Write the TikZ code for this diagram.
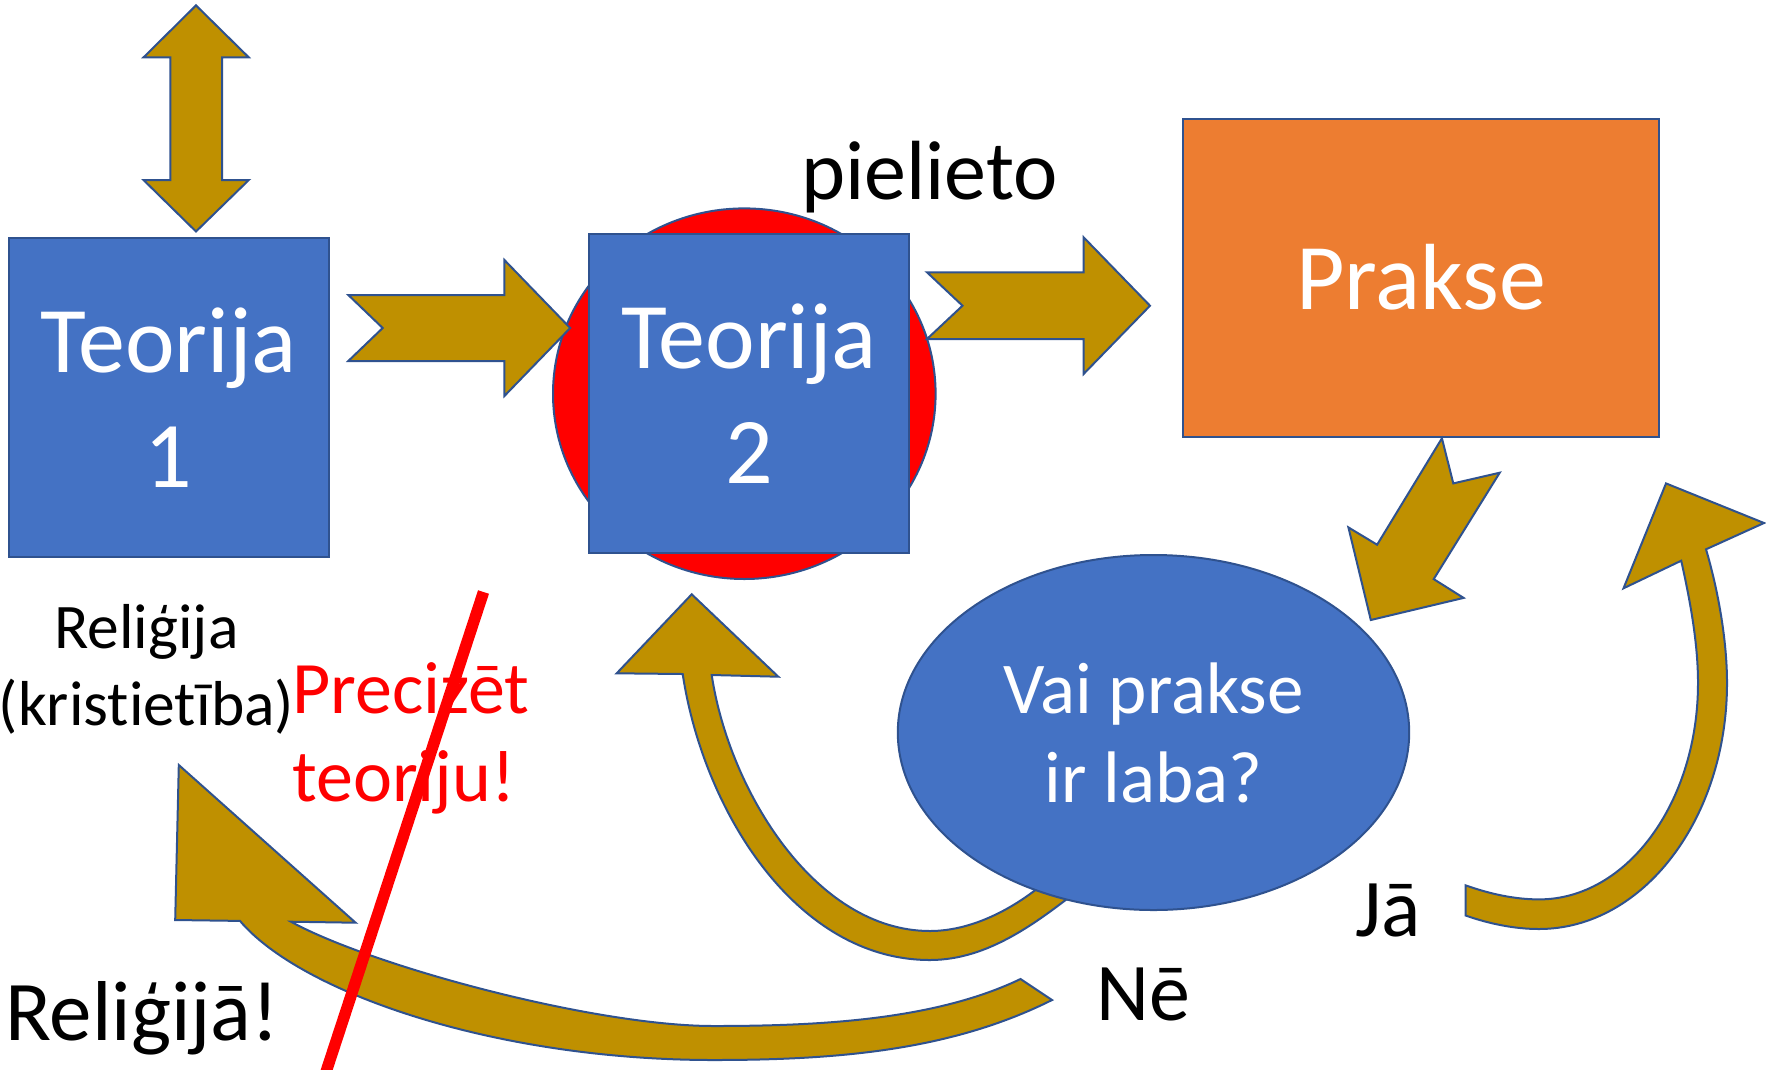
\documentclass[tikz,border=0pt]{standalone}
\usepackage{fontspec}
\setmainfont{Carlito}[Ligatures={NoCommon,NoRare,NoContextual}]
\usetikzlibrary{shapes.geometric}
\definecolor{obl}{HTML}{4472C4}
\definecolor{oln}{HTML}{2F528F}
\definecolor{oor}{HTML}{ED7D31}
\definecolor{ogold}{HTML}{BF9000}
\newcommand\szTeo{\fontsize{94}{115}\selectfont}
\newcommand\szQ{\fontsize{73}{89}\selectfont}
\newcommand\szRel{\fontsize{63.5}{76.5}\selectfont}
\newcommand\szPr{\fontsize{74}{88.4}\selectfont}
\newcommand\szLab{\fontsize{82}{100}\selectfont}
\newcommand\szPiel{\fontsize{84}{100}\selectfont}
\newcommand\szRelB{\fontsize{85}{104}\selectfont}
\begin{document}
\begin{tikzpicture}[x=1pt,y=-1pt,
  outl/.style={draw=oln, line width=2pt, line join=miter},
  bluebox/.style={rectangle, outl, fill=obl, text=white, inner sep=0pt, align=center},
  blockarrow/.style={outl, fill=ogold},
  lbl/.style={inner sep=0pt}]
\useasboundingbox (0,0) rectangle (1766,1069);

% double arrow above Teorija 1
\draw[blockarrow] (196,5.4) -- (248.8,57.4) -- (222,57.4) -- (222,180) -- (248.8,180)
  -- (196,231.5) -- (143.5,180) -- (170.3,180) -- (170.3,57.4) -- (143.5,57.4) -- cycle;

% Teorija 1
\node[bluebox, minimum width=320.5pt, minimum height=319pt, font=\szTeo] (t1) at (168.75,397.5) {Teorija\\1};

% red circle and Teorija 2
\node[ellipse, outl, fill=red, minimum width=382.6pt, minimum height=370.6pt, inner sep=0pt] (c2) at (744.3,393.7) {};
\node[bluebox, minimum width=319.2pt, minimum height=318.7pt, font=\szTeo] (t2) at (749,393.4) {Teorija\\2};

% arrow Teorija 1 -> Teorija 2
\draw[blockarrow] (348.3,295) -- (504.4,295) -- (504.4,260) -- (570.2,328) -- (504.4,396)
  -- (504.4,361) -- (348.3,361) -- (382.7,328) -- cycle;

% Prakse
\node[rectangle, outl, fill=oor, text=white, minimum width=476pt, minimum height=318pt, inner sep=0pt, font=\szTeo] (pr) at (1421,277.6) {Prakse};

% arrow Teorija 2 -> Prakse
\draw[blockarrow] (927,272.3) -- (1083.6,272.3) -- (1083.6,237.3) -- (1150,305.7) -- (1083.6,374)
  -- (1083.6,339) -- (927,339) -- (962.5,305.7) -- cycle;

% arrow Prakse -> question
\draw[blockarrow] (1441.9,438.3) -- (1453.3,483.4) -- (1499.7,472.7) -- (1433.7,579.1)
  -- (1463.6,597.9) -- (1370.8,620) -- (1348.4,527.4) -- (1377.1,544.7) -- cycle;

% curved arrow question -> Teorija 2 (Ne)
\draw[blockarrow] (682.7,674) .. controls (703,809) and (795,960) .. (930,960)
  .. controls (990,960) and (1040,920) .. (1085,885) -- (1067,862)
  .. controls (1025,905) and (975,931) .. (930,931)
  .. controls (815,931) and (729,790) .. (711.7,675)
  -- (778.3,676.7) -- (691.7,594.3) -- (616.7,673.3) -- cycle;

% question ellipse
\node[ellipse, outl, fill=obl, text=white, minimum width=511.4pt, minimum height=355pt, inner sep=0pt, align=center, font=\szQ] (q) at (1153.5,732.5) {Vai prakse\\ir laba?};

% big curved arrow to Religija
\draw[blockarrow] (240,920.9) .. controls (300,992) and (493.5,1060) .. (713.5,1060)
  .. controls (840,1060) and (952,1050) .. (1052,1000) -- (1020.5,979)
  .. controls (935,1020) and (820,1026) .. (713.5,1026)
  .. controls (593.5,1026) and (371,965.7) .. (291,921.7)
  -- (355.6,922.7) -- (178.8,765) -- (175.2,920) -- cycle;

% curved arrow Ja
\draw[blockarrow] (1465.5,885.3) .. controls (1490,894) and (1515,899.4) .. (1539,899.4)
  .. controls (1626.8,899.4) and (1698,802.5) .. (1698,683)
  .. controls (1698,643) and (1690,600) .. (1681.2,560.7)
  -- (1623.5,588.3) -- (1666,483.4) -- (1764,523) -- (1706,549.3)
  .. controls (1718,590) and (1727,640) .. (1727,683)
  .. controls (1727,818.9) and (1642.8,929) .. (1539,929)
  .. controls (1515,929) and (1490,924) .. (1465.5,915.5) -- cycle;

% texts (multi-line nodes: base anchor = last line)
\node[lbl, font=\szPiel, anchor=base] (lpiel) at (929.5,199) {pielieto};
\node[lbl, font=\szRel, align=center, anchor=base] (lrel) at (146.5,725) {Reliģija\\(kristietība)};
\node[lbl, font=\szPr, text=red, align=left, anchor=base west] (lprec) at (292,801.7) {Precizēt\\teoriju!};
\node[lbl, font=\szRelB, anchor=base west] (lrelb) at (5,1040) {Reliģijā!};
\node[lbl, font=\szLab, anchor=base west] (lne) at (1096,1020) {Nē};
\node[lbl, font=\szLab, anchor=base west] (lja) at (1355,936) {Jā};

% red strike line
\draw[red, line width=11.5pt] (483.5,592) -- (325,1075);
\end{tikzpicture}
\end{document}
